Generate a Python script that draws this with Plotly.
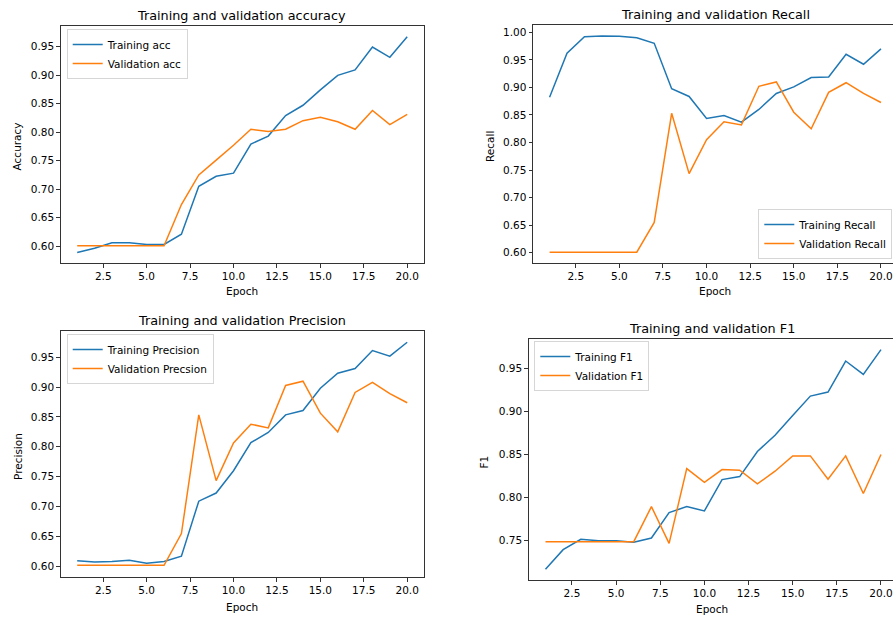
import plotly.graph_objects as go

epochs = list(range(1, 21))

train_acc = [0.589, 0.5965, 0.606, 0.606, 0.603, 0.603, 0.621, 0.705, 0.7225, 0.728,
             0.779, 0.793, 0.829, 0.847, 0.874, 0.8995, 0.909, 0.949, 0.931, 0.967]
val_acc = [0.601, 0.601, 0.601, 0.601, 0.601, 0.601, 0.673, 0.725, 0.751, 0.777,
           0.805, 0.801, 0.805, 0.820, 0.826, 0.818, 0.805, 0.838, 0.813, 0.831]

train_recall = [0.882, 0.962, 0.992, 0.9933, 0.993, 0.990, 0.980, 0.8976, 0.8836, 0.8436,
                0.849, 0.837, 0.860, 0.889, 0.901, 0.918, 0.919, 0.960, 0.942, 0.970]
val_recall = [0.601, 0.601, 0.601, 0.601, 0.601, 0.601, 0.655, 0.853, 0.7436, 0.805,
              0.8376, 0.832, 0.902, 0.910, 0.855, 0.825, 0.891, 0.9085, 0.889, 0.8727]

train_prec = [0.6095, 0.607, 0.608, 0.610, 0.605, 0.608, 0.617, 0.709, 0.7226, 0.760,
              0.807, 0.824, 0.8534, 0.8607, 0.898, 0.923, 0.931, 0.961, 0.9517, 0.975]
val_prec = [0.6017, 0.6017, 0.6017, 0.6017, 0.6017, 0.6017, 0.6547, 0.8534, 0.7434, 0.8065,
            0.8378, 0.8317, 0.9026, 0.9098, 0.8563, 0.825, 0.891, 0.908, 0.889, 0.8737]

train_f1 = [0.7163, 0.7391, 0.7512, 0.7496, 0.7496, 0.7477, 0.7527, 0.7822, 0.7891, 0.7841,
            0.8205, 0.824, 0.8531, 0.872, 0.895, 0.9174, 0.9221, 0.9581, 0.9426, 0.9713]
val_f1 = [0.7484, 0.7484, 0.7484, 0.7484, 0.7484, 0.7484, 0.7891, 0.7465, 0.8333, 0.8174,
          0.8321, 0.8314, 0.8155, 0.8302, 0.848, 0.848, 0.8209, 0.848, 0.8043, 0.8496]

x_tick_vals = [2.5, 5.0, 7.5, 10.0, 12.5, 15.0, 17.5, 20.0]
x_tick_text = ["2.5", "5.0", "7.5", "10.0", "12.5", "15.0", "17.5", "20.0"]

titles = ["Training and validation accuracy", "Training and validation Recall",
          "Training and validation Precision", "Training and validation F1"]
ylabels = ["Accuracy", "Recall", "Precision", "F1"]
train_names = ["Training acc", "Training Recall", "Training Precision", "Training F1"]
val_names = ["Validation acc", "Validation Recall", "Validation Precsion", "Validation F1"]

W, H = 893, 617
BLUE, ORANGE = "#1f77b4", "#ff7f0e"
FONT = "DejaVu Sans"
TICK_SIZE = 10.5
TITLE_SIZE = 12.8
SPINE = "#333333"

def px(x):
    return x / W

def py(y):
    return 1 - y / H

# pixel boxes: (left, right, top, bottom)
boxes = [(60.7, 423.7, 26.0, 263.3), (533.0, 893.0, 25.3, 263.0),
         (60.7, 423.7, 331.0, 577.3), (528.7, 893.0, 338.7, 580.3)]
xranges = [[0.05, 20.95], [0.05, 20.69], [0.05, 20.95], [0.05, 20.68]]
yranges = [[0.5701, 0.9859], [0.5814, 1.0127], [0.5816, 0.9938], [0.7036, 0.9840]]
title_pos = [(241.7, 15.7), (715.0, 14.7), (241.7, 320.0), (712.3, 328.3)]
xlabel_pos = [(242.0, 291.0), (715.0, 291.0), (242.0, 606.7), (712.3, 609.0)]
ylabel_pos = [(16.7, 146.7), (489.3, 146.7), (17.3, 456.7), (484.3, 462.3)]
legend_pos = [(66.7, 29.0, "left", "top"), (892.3, 259.0, "right", "bottom"),
              (66.7, 334.0, "left", "top"), (534.3, 341.0, "left", "top")]
right_clipped = [False, True, False, True]

series = [(train_acc, val_acc), (train_recall, val_recall),
          (train_prec, val_prec), (train_f1, val_f1)]

fig = go.Figure()
annotations = []
layout = {}
for i in range(4):
    n = "" if i == 0 else str(i + 1)
    lg = "legend" if i == 0 else "legend" + str(i + 1)
    tr, va = series[i]
    fig.add_trace(go.Scatter(x=epochs, y=tr, mode="lines", name=train_names[i],
                             line=dict(color=BLUE, width=1.5),
                             xaxis="x" + n, yaxis="y" + n, legend=lg))
    fig.add_trace(go.Scatter(x=epochs, y=va, mode="lines", name=val_names[i],
                             line=dict(color=ORANGE, width=1.5),
                             xaxis="x" + n, yaxis="y" + n, legend=lg))
    l, r, t, b = boxes[i]
    layout["xaxis" + n] = dict(
        domain=[px(l), px(r)], range=xranges[i], anchor="y" + n,
        tickvals=x_tick_vals, ticktext=x_tick_text, ticks="outside", ticklen=3.5,
        tickwidth=0.8, tickcolor=SPINE, showline=True, linecolor=SPINE, linewidth=1,
        mirror=True, showgrid=False, zeroline=False,
        tickfont=dict(size=TICK_SIZE, color="#000", family=FONT))
    layout["yaxis" + n] = dict(
        domain=[py(b), py(t)], range=yranges[i], anchor="x" + n,
        dtick=0.05, tick0=0, tickformat=".2f", ticks="outside", ticklen=3.5,
        tickwidth=0.8, tickcolor=SPINE, showline=True, linecolor=SPINE, linewidth=1,
        mirror=not right_clipped[i], showgrid=False, zeroline=False,
        tickfont=dict(size=TICK_SIZE, color="#000", family=FONT))
    lx, ly, xa, ya = legend_pos[i]
    layout[lg] = dict(x=px(lx), y=py(ly), xanchor=xa, yanchor=ya, xref="paper", yref="paper",
                      bgcolor="rgba(255,255,255,0.8)", bordercolor="#d6d6d6", borderwidth=1,
                      font=dict(size=TICK_SIZE, color="#000", family=FONT), itemwidth=30,
                      tracegroupgap=0)
    tx, ty = title_pos[i]
    annotations.append(dict(text=titles[i], x=px(tx), y=py(ty), xref="paper", yref="paper",
                            showarrow=False, xanchor="center", yanchor="middle",
                            font=dict(size=TITLE_SIZE, color="#000", family=FONT)))
    ex, ey = xlabel_pos[i]
    annotations.append(dict(text="Epoch", x=px(ex), y=py(ey), xref="paper", yref="paper",
                            showarrow=False, xanchor="center", yanchor="middle",
                            font=dict(size=TICK_SIZE, color="#000", family=FONT)))
    yx, yy = ylabel_pos[i]
    annotations.append(dict(text=ylabels[i], x=px(yx), y=py(yy), xref="paper", yref="paper",
                            showarrow=False, xanchor="center", yanchor="middle", textangle=-90,
                            font=dict(size=TICK_SIZE, color="#000", family=FONT)))

fig.update_layout(**layout)
fig.update_layout(width=W, height=H, margin=dict(l=0, r=0, t=0, b=0),
                  paper_bgcolor="white", plot_bgcolor="white",
                  font=dict(family=FONT, color="#000"), annotations=annotations)

fig.write_html("out.html", config={"displayModeBar": False},
               post_script="document.body.style.margin='0';")
